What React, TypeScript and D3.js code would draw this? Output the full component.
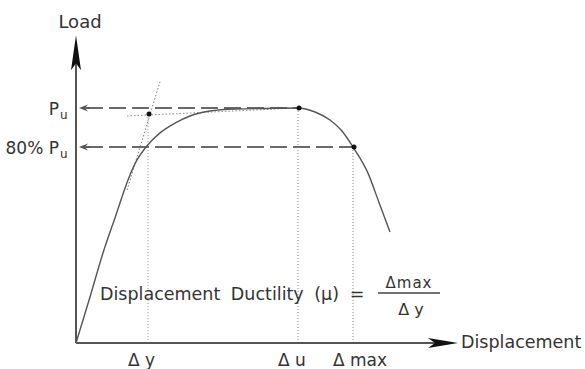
import React from 'react';
import * as d3 from 'd3';

// load-displacement curve (displacement in px/10 units, load in % of Pu)
const curveDisp = [0, 1.4, 2.7, 4.0, 5.2, 6.1, 7.0, 8.4, 9.9, 11.4, 13.4, 15.9, 18.9, 22.2, 23.9, 25.4, 26.6, 27.7, 29.2, 30.3, 31.4];
const curveLoad = [0, 19.6, 38.3, 54.5, 69.4, 77.9, 83.4, 89.4, 93.6, 96.6, 98.7, 99.6, 99.8, 100, 98.3, 94.9, 90.2, 83.4, 72.3, 59.8, 47.2];

const levelNames = ['Pu', '80% Pu'];
const levelLoads = [100, 83.4];
const levelEnds = [22.2, 27.7];

const markNames = ['Δ y', 'Δ u', 'Δ max'];
const markDisp = [7.2, 22.2, 27.7];
const markLoad = [97.4, 100, 83.4];

const tangentDisp = [5.1, 8.4];
const tangentLoad = [65.1, 111.1];
const yieldDisp = [5.1, 22.1];
const yieldLoad = [96.6, 100];

const W = 585, H = 369;
const FONT = '"DejaVu Sans", sans-serif';
const INK = '#333';

const App = () => {
  const x = d3.scaleLinear().domain([0, 38.2]).range([76, 458]);
  const y = d3.scaleLinear().domain([0, 100]).range([343, 108]);
  const x0 = x(0), y0 = y(0);
  const xTip = x(38.2), yTip = y(131);

  const line = d3.line<number>()
    .x((d, i) => x(curveDisp[i]))
    .y((d, i) => y(curveLoad[i]))
    .curve(d3.curveMonotoneX);

  const seg = d3.line<[number, number]>().x(d => x(d[0])).y(d => y(d[1]));

  return (
    <svg width={W} height={H} style={{ position: 'absolute', left: 0, top: 0 }}>
      <rect width={W} height={H} fill="#fff" />

      {/* dashed load levels */}
      {levelLoads.map((v, i) => (
        <g key={levelNames[i]}>
          <line x1={x0 + 10} x2={x(levelEnds[i])} y1={y(v)} y2={y(v)}
            stroke="#6a6a6a" strokeWidth={2.2} strokeDasharray="17 6" />
          <path d={`M${x0 + 3},${y(v)}L${x0 + 12},${y(v) - 3.5}L${x0 + 9},${y(v)}L${x0 + 12},${y(v) + 3.5}Z`}
            fill="#555" />
          <line x1={x0 + 8} x2={x0 + 14} y1={y(v)} y2={y(v)} stroke="#555" strokeWidth={1.5} />
        </g>
      ))}

      {/* dotted construction lines */}
      {markDisp.map((v, i) => (
        <line key={markNames[i]} x1={x(v)} x2={x(v)} y1={y(markLoad[i])} y2={y0}
          stroke="#888" strokeWidth={1} strokeDasharray="1 2" />
      ))}
      <path d={seg(tangentDisp.map((d, i) => [d, tangentLoad[i]]) as [number, number][]) || ''}
        fill="none" stroke="#777" strokeWidth={1} strokeDasharray="1.5 2" />
      <path d={seg(yieldDisp.map((d, i) => [d, yieldLoad[i]]) as [number, number][]) || ''}
        fill="none" stroke="#888" strokeWidth={1} strokeDasharray="1.5 2" />

      {/* curve */}
      <path d={line(curveDisp) || ''} fill="none" stroke="#555" strokeWidth={1.4} />

      {markDisp.map((v, i) => (
        <circle key={markNames[i]} cx={x(v) + 1} cy={y(markLoad[i])} r={2.5} fill="#111" />
      ))}

      {/* axes */}
      <line x1={x0} x2={x0} y1={y0} y2={yTip + 20} stroke="#555" strokeWidth={2} />
      <line x1={x0} x2={xTip - 20} y1={y0} y2={y0} stroke="#555" strokeWidth={2} />
      <path d={`M${x0},${yTip}L${x0 - 5},${yTip + 35}L${x0},${yTip + 28}L${x0 + 5},${yTip + 35}Z`} fill="#111" />
      <path d={`M${xTip},${y0}L${xTip - 30},${y0 - 5}L${xTip - 23},${y0}L${xTip - 30},${y0 + 5}Z`} fill="#111" />

      <g fontFamily={FONT} fill={INK}>
        <text x={x0 + 4} y={28} fontSize={18} textAnchor="middle">Load</text>
        <text x={xTip + 3} y={348} fontSize={17.5}>Displacement</text>

        {levelNames.map((n, i) => (
          <text key={n} x={x0 - 17} y={y(levelLoads[i]) + 7} fontSize={17} textAnchor="end">
            {n.slice(0, -1)}
          </text>
        ))}
        {levelNames.map((n, i) => (
          <text key={n + 's'} x={x0 - 16} y={y(levelLoads[i]) + 11} fontSize={12}>u</text>
        ))}

        {markNames.map((n, i) => (
          <text key={n} x={x(markDisp[i]) - 20} y={366} fontSize={17}>{n}</text>
        ))}

        <text x={100} y={300} fontSize={17.5} wordSpacing={5}>Displacement Ductility (μ) =</text>
        <text x={409} y={288} fontSize={15} textAnchor="middle" letterSpacing={1}>Δmax</text>
        <line x1={378} x2={440} y1={293} y2={293} stroke="#444" strokeWidth={1.3} />
        <text x={411} y={315} fontSize={16} textAnchor="middle">Δ y</text>
      </g>
    </svg>
  );
};

export default App;
